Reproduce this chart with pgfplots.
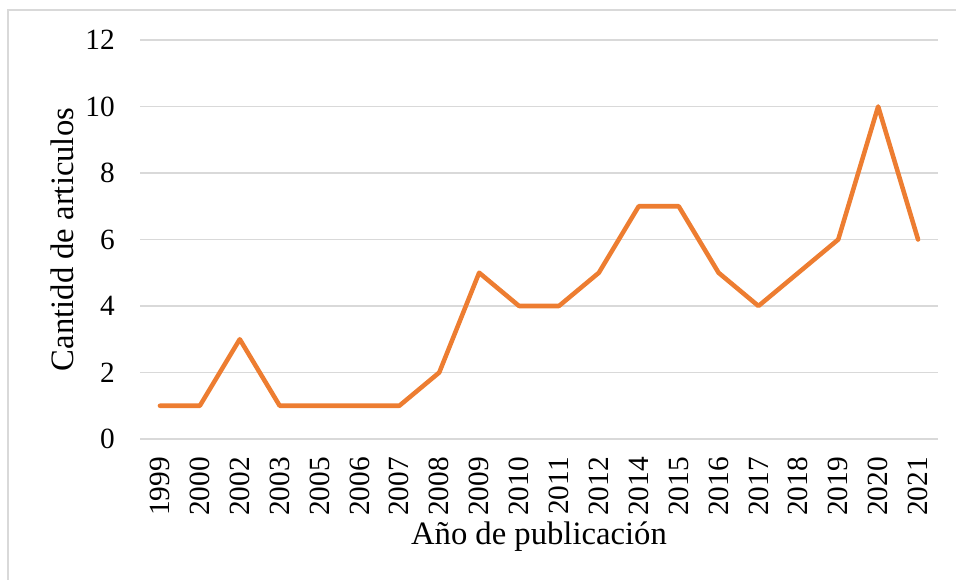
\documentclass[border=0pt]{standalone}
\usepackage{pgfplots}
\pgfplotsset{compat=1.18}
\usepackage{fontspec}
\setmainfont{Liberation Serif}
\definecolor{lineorange}{HTML}{ED7D31}
\definecolor{gridgray}{HTML}{D9D9D9}
\begin{document}
\begin{tikzpicture}
\useasboundingbox (0pt,0pt) rectangle (717pt,435pt);
\draw[gridgray, line width=1.2pt] (6pt,0pt) -- (6pt,427.5pt) -- (717pt,427.5pt);
\begin{axis}[
  at={(105pt,105.75pt)}, anchor=south west,
  scale only axis, width=598.5pt, height=299.25pt,
  xmin=-0.5, xmax=19.5, ymin=0, ymax=12,
  xtick={0,...,19},
  xticklabels={1999,2000,2002,2003,2005,2006,2007,2008,2009,2010,2011,2012,2014,2015,2016,2017,2018,2019,2020,2021},
  ytick={0,2,...,12},
  axis line style={draw=none},
  major tick length=0pt,
  ymajorgrids, grid style={gridgray, line width=1.2pt},
  tick label style={font=\fontsize{22}{26}\selectfont},
  /pgf/number format/assume math mode=true,
  xticklabel style={rotate=90, anchor=east, inner sep=0pt},
  xticklabel shift=13.5pt,
  yticklabel style={anchor=east, inner sep=0pt},
  yticklabel shift=18.75pt,
  xlabel={Año de publicación},
  ylabel={Cantidd de articulos},
  label style={font=\fontsize{24.5}{29}\selectfont},
  xlabel style={at={(axis description cs:0.5,-0.2456)}, anchor=center},
  ylabel style={at={(axis description cs:-0.0977,0.5)}, anchor=center, rotate=0},
  clip=false,
]
\addplot[lineorange, line width=3.4pt, line join=round, line cap=round] coordinates {
(0,1) (1,1) (2,3) (3,1) (4,1) (5,1) (6,1) (7,2) (8,5) (9,4) (10,4) (11,5) (12,7) (13,7) (14,5) (15,4) (16,5) (17,6) (18,10) (19,6)
};
\end{axis}
\end{tikzpicture}
\end{document}
